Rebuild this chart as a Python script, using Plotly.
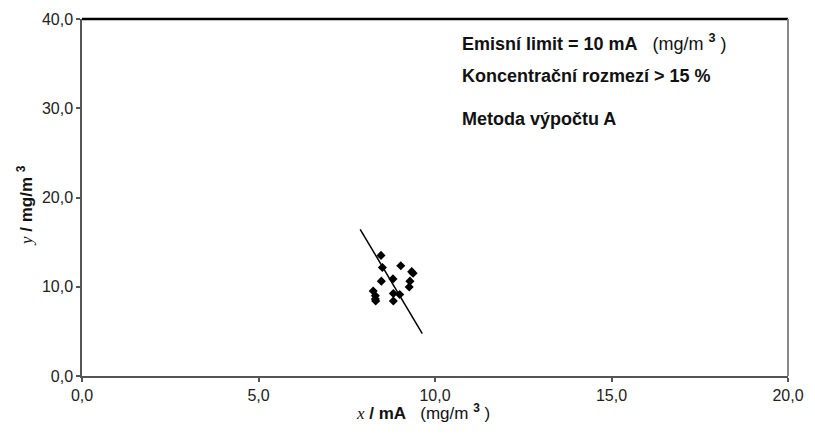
import plotly.graph_objects as go

# Data
x_points = [8.47, 8.51, 9.03, 9.34, 9.38, 8.81, 8.48, 9.29, 9.27, 8.25, 8.31, 8.31, 8.32, 8.82, 9.00, 8.82]
y_points = [13.51, 12.16, 12.35, 11.69, 11.51, 10.88, 10.63, 10.63, 9.97, 9.53, 8.99, 8.62, 8.40, 9.24, 9.13, 8.41]
line_x = [7.88, 9.64]
line_y = [16.44, 4.75]
x_ticks = [0, 5, 10, 15, 20]
y_ticks = [0, 10, 20, 30, 40]

fig = go.Figure()
fig.add_trace(go.Scatter(x=line_x, y=line_y, mode="lines",
                         line=dict(color="black", width=1.5), showlegend=False))
fig.add_trace(go.Scatter(x=x_points, y=y_points, mode="markers",
                         marker=dict(symbol="diamond", size=7, color="black"),
                         showlegend=False))

tickfont = dict(family="Liberation Sans, Arial, sans-serif", size=16, color="#222")
fig.update_layout(
    width=815, height=434,
    margin=dict(l=82, r=25, t=11, b=58),
    plot_bgcolor="white", paper_bgcolor="white",
    separators=", ",
    xaxis=dict(range=[0, 20], tickvals=x_ticks, tickformat=".1f",
               showgrid=False, zeroline=False, showline=True,
               linecolor="#555", linewidth=1.5, mirror=False,
               ticks="outside", ticklen=4, tickcolor="#555", tickwidth=1.5,
               tickfont=tickfont),
    yaxis=dict(range=[0, 40], tickvals=y_ticks, tickformat=".1f",
               showgrid=False, zeroline=False, showline=True,
               linecolor="#555", linewidth=1.5, mirror=False,
               ticks="outside", ticklen=4, tickcolor="#555", tickwidth=1.5,
               tickfont=tickfont),
)

# top (black) and right (gray) frame lines
fig.add_shape(type="line", xref="paper", yref="paper", x0=0, x1=1, y0=1, y1=1,
              line=dict(color="black", width=2.5))
fig.add_shape(type="line", xref="paper", yref="paper", x0=1, x1=1, y0=0, y1=1,
              line=dict(color="#888", width=2))

bold = dict(family="Liberation Sans, Arial, sans-serif", size=18, color="#111")
fig.add_annotation(xref="paper", yref="paper", x=(461 - 82) / 708, y=(376 - 35) / 365,
                   xanchor="left", yanchor="middle", showarrow=False, font=bold,
                   text="<b>Emisní limit = 10 mA</b>&nbsp;&nbsp;&nbsp;(mg/m&nbsp;<sup><b>3</b></sup>&nbsp;)")
fig.add_annotation(xref="paper", yref="paper", x=(461 - 82) / 708, y=(376 - 69) / 365,
                   xanchor="left", yanchor="middle", showarrow=False, font=bold,
                   text="<b>Koncentrační rozmezí > 15 %</b>")
fig.add_annotation(xref="paper", yref="paper", x=(461 - 82) / 708, y=(376 - 113) / 365,
                   xanchor="left", yanchor="middle", showarrow=False, font=bold,
                   text="<b>Metoda výpočtu A</b>")

# axis titles
fig.add_annotation(xref="paper", yref="paper", x=(424 - 82) / 708, y=(376 - 413) / 365,
                   xanchor="center", yanchor="middle", showarrow=False,
                   font=dict(family="Liberation Sans, Arial, sans-serif", size=17, color="#111"),
                   text="<span style='font-family:Liberation Serif,Times New Roman,serif'><i>x</i></span><b> / mA</b>&nbsp;&nbsp;&nbsp;(mg/m&nbsp;<sup><b>3</b></sup>&nbsp;)")
fig.add_annotation(xref="paper", yref="paper", x=(25 - 82) / 708, y=(376 - 202) / 365,
                   xanchor="center", yanchor="middle", showarrow=False, textangle=-90,
                   font=dict(family="Liberation Sans, Arial, sans-serif", size=17, color="#111"),
                   text="<span style='font-family:Liberation Serif,Times New Roman,serif'><i>y</i></span><b> / mg/m </b><sup><b>3</b></sup>")

fig.write_html("out.html")
